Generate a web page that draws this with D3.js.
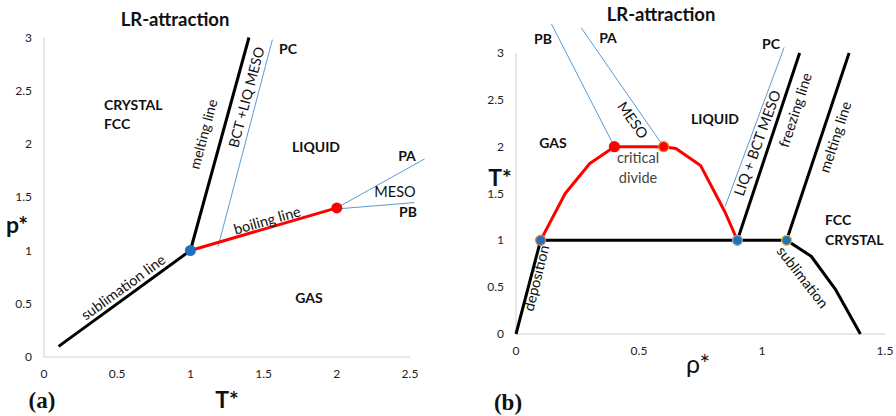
<!DOCTYPE html>
<html><head><meta charset="utf-8">
<script src="https://cdn.jsdelivr.net/npm/d3@7"></script>
<style>body{margin:0;background:#fff}svg{display:block}</style>
</head><body><svg id="c" width="896" height="416"></svg>
<script>
// ---- Panel (a): p* vs T* ----
const aXTicks = [0, 0.5, 1, 1.5, 2, 2.5];
const aYTicks = [0, 0.5, 1, 1.5, 2, 2.5, 3];
const aSublimation = [[0.1, 0.1], [1, 1]];
const aMelting = [[1, 1], [1.4, 3]];
const aBoiling = [[1, 1], [2, 1.4]];
const aBctLiq = [[1.19, 1.04], [1.56, 2.98]];
const aPA = [[2, 1.4], [2.6, 1.86]];
const aPB = [[2, 1.39], [2.53, 1.45]];
const aTriple = [[1, 1]];
const aCritical = [[2, 1.4]];

// ---- Panel (b): T* vs rho* ----
const bXTicks = [0, 0.5, 1, 1.5];
const bYTicks = [0, 0.5, 1, 1.5, 2, 2.5, 3];
const bCoexist = [[0.1, 1], [0.2, 1.5], [0.3, 1.82], [0.4, 2], [0.6, 2], [0.65, 1.98], [0.75, 1.8], [0.8, 1.55], [0.85, 1.3], [0.9, 1]];
const bTripleLine = [[0.1, 1], [1.1, 1]];
const bDeposition = [[0, 0], [0.1, 1]];
const bFreezing = [[0.9, 1], [1.153, 3]];
const bMelting = [[1.1, 1], [1.354, 3]];
const bSublimation = [[1.1, 1], [1.2, 0.83], [1.3, 0.47], [1.4, 0]];
const bPB = [[0.4, 2], [0.144, 3.31]];
const bPA = [[0.6, 2], [0.265, 3.27]];
const bPC = [[0.85, 1.36], [1.09, 3.06]];
const bBlueDots = [[0.1, 1, "#ed7d31"], [0.9, 1, "#a5a5a5"], [1.1, 1, "#ffc000"]];
const bRedDots = [[0.4, 2, "#ff0000"], [0.6, 2, "#ed7d31"]];

const svg = d3.select("#c");
const BLUE = "#5b9bd5", DOT = "#1f72c0";
const SANS = "Lato, 'Open Sans', sans-serif";
const SERIF = "'Liberation Serif', 'Times New Roman', serif";

function axes(x, y, xt, yt, yLabX, xLabY) {
  const g = svg.append("g");
  g.append("line").attr("x1", x.range()[0]).attr("x2", x.range()[0])
    .attr("y1", y(0)).attr("y2", y(3)).attr("stroke", "#d0d0d0").attr("stroke-width", 1);
  g.append("line").attr("x1", x.range()[0]).attr("x2", x.range()[1])
    .attr("y1", y(0)).attr("y2", y(0)).attr("stroke", "#d0d0d0").attr("stroke-width", 1);
  g.selectAll(".yt").data(yt).join("text").attr("x", yLabX).attr("y", d => y(d) + 4)
    .attr("text-anchor", "end").style("font-family", SANS).attr("font-size", 12).attr("fill", "#222").text(d => d);
  g.selectAll(".xt").data(xt).join("text").attr("x", d => x(d)).attr("y", xLabY)
    .attr("text-anchor", "middle").style("font-family", SANS).attr("font-size", 12).attr("fill", "#222").text(d => d);
}
function path(x, y, data, color, w) {
  svg.append("path").attr("d", d3.line().x(d => x(d[0])).y(d => y(d[1]))(data))
    .attr("fill", "none").attr("stroke", color).attr("stroke-width", w)
    .attr("stroke-linejoin", "round");
}
function label(txt, px, py, o = {}) {
  svg.append("text").attr("transform", `translate(${px},${py}) rotate(${o.rot || 0})`)
    .attr("text-anchor", o.anchor || "middle").attr("dominant-baseline", "central")
    .attr("font-size", o.size || 14).attr("font-weight", o.bold ? "bold" : "normal")
    .attr("fill", o.fill || "#111").style("font-family", o.family || SANS).text(txt);
}

// Panel a
const xa = d3.scaleLinear().domain([0, 2.5]).range([44, 410]);
const ya = d3.scaleLinear().domain([0, 3]).range([357, 37.5]);
axes(xa, ya, aXTicks, aYTicks, 32, 378);
path(xa, ya, aBctLiq, BLUE, 1);
path(xa, ya, aPA, BLUE, 1);
path(xa, ya, aPB, BLUE, 1);
path(xa, ya, aSublimation, "#000", 3);
path(xa, ya, aMelting, "#000", 3);
path(xa, ya, aBoiling, "#ff0000", 3);
svg.selectAll(".at").data(aTriple).join("circle").attr("cx", d => xa(d[0])).attr("cy", d => ya(d[1]))
  .attr("r", 5.5).attr("fill", DOT);
svg.selectAll(".ac").data(aCritical).join("circle").attr("cx", d => xa(d[0])).attr("cy", d => ya(d[1]))
  .attr("r", 5.5).attr("fill", "#ff0000");

label("LR-attraction", 175, 19, {bold: 1, size: 18.5});
label("CRYSTAL", 104, 104, {bold: 1, anchor: "start"});
label("FCC", 104, 123, {bold: 1, anchor: "start"});
label("melting line", 203, 134, {rot: -75, size: 14});
label("BCT +LIQ MESO", 246, 97, {rot: -75, size: 14});
label("PC", 288, 48, {bold: 1});
label("LIQUID", 316, 146, {bold: 1});
label("PA", 407, 155, {bold: 1});
label("MESO", 395, 191, {size: 14.5});
label("PB", 408, 211, {bold: 1});
label("boiling line", 267, 220, {rot: -16, size: 14.5});
label("sublimation line", 123, 287, {rot: -36, size: 14.5});
label("GAS", 309, 297, {bold: 1});
label("T*", 227, 399, {bold: 1, size: 23});
label("p*", 17, 224, {bold: 1, size: 23});
label("(a)", 42, 400, {bold: 1, size: 23, family: SERIF});

// Panel b
const xb = d3.scaleLinear().domain([0, 1.5]).range([516, 885]);
const yb = d3.scaleLinear().domain([0, 3]).range([334, 53]);
axes(xb, yb, bXTicks, bYTicks, 504, 355);
path(xb, yb, bPB, BLUE, 1);
path(xb, yb, bPA, BLUE, 1);
path(xb, yb, bPC, BLUE, 1);
path(xb, yb, bCoexist, "#ff0000", 3);
path(xb, yb, bTripleLine, "#000", 3);
path(xb, yb, bDeposition, "#000", 3);
path(xb, yb, bFreezing, "#000", 3);
path(xb, yb, bMelting, "#000", 3);
path(xb, yb, bSublimation, "#000", 3);
svg.selectAll(".bb").data(bBlueDots).join("circle").attr("cx", d => xb(d[0])).attr("cy", d => yb(d[1]))
  .attr("r", 5).attr("fill", DOT).attr("stroke", d => d[2]).attr("stroke-width", 1.2);
svg.selectAll(".br").data(bRedDots).join("circle").attr("cx", d => xb(d[0])).attr("cy", d => yb(d[1]))
  .attr("r", 5).attr("fill", "#ff0000").attr("stroke", d => d[2]).attr("stroke-width", 1.2);

label("LR-attraction", 661, 14, {bold: 1, size: 18.5});
label("PB", 543, 38, {bold: 1});
label("PA", 608, 37, {bold: 1});
label("PC", 771, 43, {bold: 1});
label("MESO", 633, 120, {rot: 55, size: 14.5});
label("LIQUID", 715, 118, {bold: 1});
label("GAS", 553, 142, {bold: 1});
label("critical", 638, 157, {size: 14.5, fill: "#444"});
label("divide", 638, 177, {size: 14.5, fill: "#444"});
label("LIQ + BCT MESO", 757, 143, {rot: -70, size: 14.5});
label("freezing line", 795, 110, {rot: -72, size: 14.5});
label("melting line", 835, 137, {rot: -72, size: 14.5});
label("FCC", 825, 219, {bold: 1, anchor: "start"});
label("CRYSTAL", 825, 239, {bold: 1, anchor: "start"});
label("deposition", 536, 278, {rot: -76, size: 14.5});
label("sublimation", 803, 277, {rot: 52, size: 14.5});
label("T*", 500, 177, {bold: 1, size: 23});
label("ρ*", 698, 363, {size: 25});
label("(b)", 508, 402, {bold: 1, size: 23, family: SERIF});
</script></body></html>
